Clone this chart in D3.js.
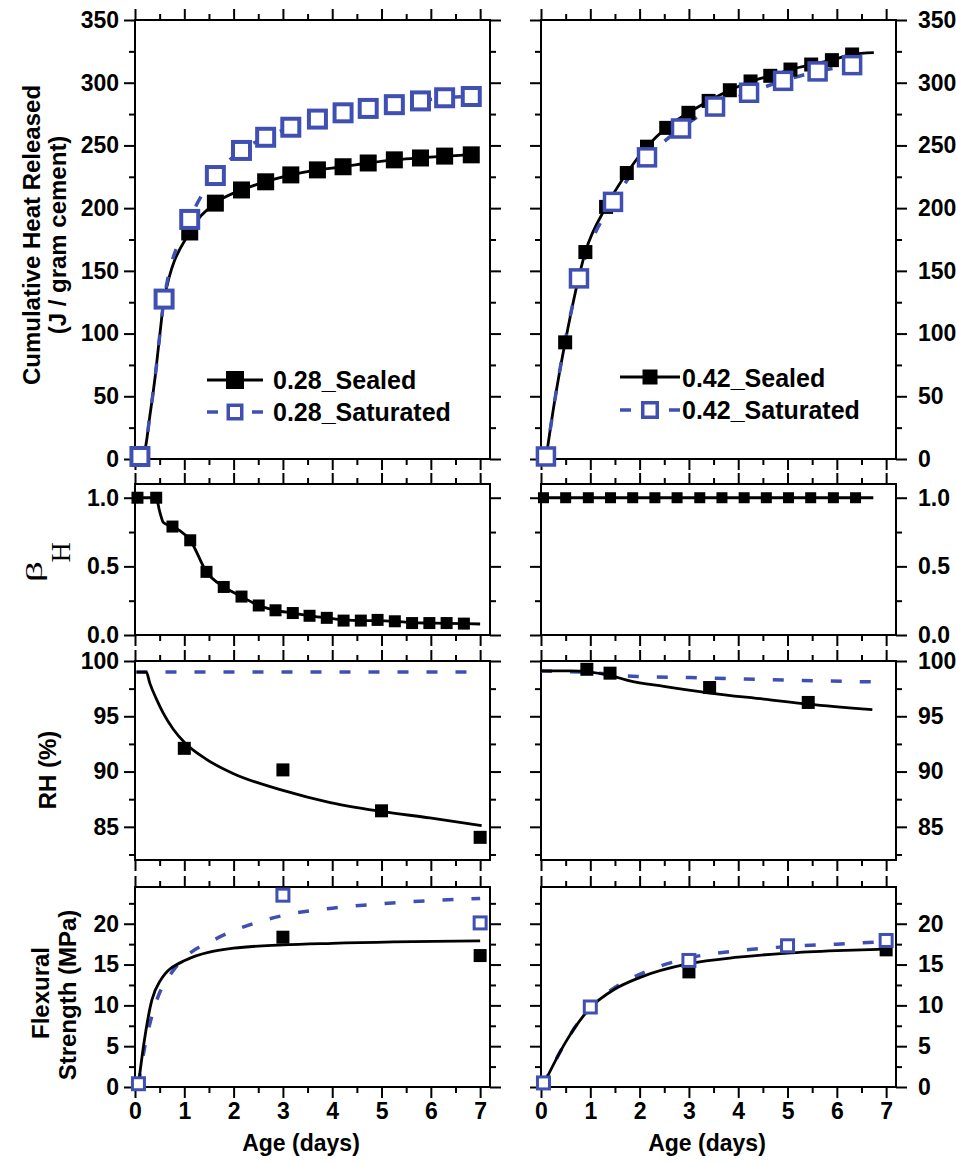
<!DOCTYPE html>
<html>
<head>
<meta charset="utf-8">
<script src="https://cdn.jsdelivr.net/npm/d3@7"></script>
<style>
  body { margin: 0; background: #fff; }
  svg { display: block; }
</style>
</head>
<body>
<svg id="fig" width="956" height="1163"></svg>
<script>
//=================== Data ===================
// [age (days), value]

// cumulative heat, w/c 0.28
var heat028Sealed = [[0.1,2],[0.59,127],[1.11,181],[1.63,204],[2.16,214.5],[2.65,221],[3.16,226.5],
  [3.7,230.5],[4.22,233],[4.73,236],[5.26,238.5],[5.79,240],[6.28,241.5],[6.82,242.5]];
var heat028Saturated = [[0.1,2],[0.59,127.5],[1.11,191],[1.63,226],[2.16,246],[2.65,256.5],[3.16,264.5],
  [3.7,271],[4.22,276],[4.73,279.5],[5.26,282.5],[5.79,285.5],[6.28,288],[6.82,289]];
var heat028Start = [[0.1,0],[0.2,7],[0.3,34],[0.41,66],[0.5,98]];

// cumulative heat, w/c 0.42
var heat042Sealed = [[0.1,2],[0.49,93],[0.9,165],[1.32,201],[1.74,228],[2.15,249],[2.54,264],[2.99,276],
  [3.4,285.5],[3.83,294],[4.25,301],[4.65,305.5],[5.06,310.5],[5.48,314.5],[5.9,318],[6.31,322.5]];
var heat042Saturated = [[0.1,2],[0.77,144],[1.46,205],[2.15,240.5],[2.84,263.5],[3.53,281],[4.22,292],
  [4.91,301.5],[5.61,309],[6.31,314]];
var heat042Start = [[0.1,0],[0.28,47]];
var heat042SealedEnd = [6.75,324];
var heat042SaturatedEnd = [6.72,317];

// beta_H
var beta028 = [[0.05,1.0],[0.43,1.0],[0.76,0.79],[1.12,0.69],[1.45,0.46],[1.8,0.35],[2.16,0.28],[2.51,0.215],
  [2.85,0.18],[3.2,0.16],[3.54,0.14],[3.89,0.125],[4.23,0.105],[4.58,0.105],[4.92,0.11],[5.27,0.1],
  [5.62,0.087],[5.97,0.087],[6.32,0.087],[6.67,0.083]];
var beta028Curve = [[0.05,1.0],[0.43,1.0],[0.5,0.9],[0.575,0.82],[0.76,0.79],[0.91,0.76],[1.12,0.69],[1.45,0.46],
  [1.8,0.35],[2.16,0.28],[2.51,0.215],[2.85,0.18],[3.2,0.16],[3.54,0.14],[3.89,0.125],[4.23,0.11],[4.58,0.105],
  [4.92,0.105],[5.27,0.1],[5.62,0.09],[5.97,0.087],[6.32,0.085],[6.67,0.083],[7.0,0.08]];
var beta042 = [[0.05,1],[0.5,1],[0.96,1],[1.41,1],[1.86,1],[2.31,1],[2.76,1],[3.22,1],[3.67,1],[4.12,1],
  [4.57,1],[5.02,1],[5.47,1],[5.93,1],[6.38,1]];
var beta042Curve = [[0,1],[6.74,1]];

// internal RH (%)
var rh028Sealed = [[1,92.1],[3,90.15],[5,86.45],[7,84.05]];
var rh028SealedCurve = [[0.03,99],[0.23,99],[0.3,98],[0.44,96.5],[0.57,95.3],[0.78,93.8],[1.01,92.6],[1.45,91.1],
  [2.0,89.8],[3.0,88.3],[3.96,87.2],[5.0,86.4],[5.98,85.8],[7.03,85.1]];
var rh028SaturatedCurve = [[0.03,99],[7.03,99]];
var rh042Sealed = [[0.93,99.25],[1.4,98.9],[3.42,97.6],[5.42,96.25]];
var rh042SealedCurve = [[0,99.1],[0.6,99.1],[1.0,99.0],[1.4,98.7],[1.8,98.2],[2.49,97.7],[3.42,97.1],
  [4.52,96.55],[5.42,96.1],[6.72,95.6]];
var rh042SaturatedCurve = [[0,99.1],[1.0,98.95],[1.95,98.6],[3.03,98.5],[4.93,98.28],[6.82,98.1]];

// flexural strength (MPa)
var flex028Sealed = [[0.07,0.4],[3,18.35],[7,16.1]];
var flex028Saturated = [[0.07,0.4],[3,23.5],[7,20.1]];
var flex028SealedCurve = [[0.07,0.3],[0.17,4.9],[0.34,10.6],[0.51,13.0],[1.01,15.5],[2.0,17.0],[3.0,17.4],
  [4.0,17.6],[7.0,17.9]];
var flex028SaturatedCurve = [[0.07,0.3],[0.2,5],[0.44,10.6],[0.78,14.3],[1.0,15.8],[1.66,18.2],[3.0,21.0],
  [4.0,21.9],[5.0,22.45],[7.0,23.1]];
var flex042Sealed = [[0.05,0.5],[3,14.1],[7,16.8]];
var flex042Saturated = [[0.05,0.5],[1,9.8],[3,15.5],[5,17.3],[7,17.95]];
var flex042SealedCurve = [[0.05,0.3],[0.5,5.5],[1.0,9.7],[1.5,12.0],[2.0,13.4],[3.0,15.1],[4.0,15.9],
  [5.0,16.4],[6.0,16.7],[7.0,16.9]];
var flex042SaturatedCurve = [[0.05,0.3],[0.5,5.5],[1.0,9.8],[1.5,12.2],[2.0,13.8],[3.0,15.8],[4.0,16.7],
  [5.0,17.2],[6.0,17.5],[7.0,17.8]];

// legend / axis text
var legend028 = ["0.28_Sealed", "0.28_Saturated"];
var legend042 = ["0.42_Sealed", "0.42_Saturated"];
var xTicks = [0,1,2,3,4,5,6,7];
//===================================================================

var FONT = "'Liberation Sans', Arial, sans-serif";
var SERIF = "'Liberation Serif', 'Times New Roman', serif";
var BLUE = "#4050b2";
var svg = d3.select("#fig");
var colLeft = [135, 541];
var panelW = 355;

// rows: top, height, y-domain, major ticks, minor ticks, format
var rows = {
  heat: { top: 20,  h: 439, dom: [0,350],   maj: d3.range(0,351,50), min: d3.range(25,350,50), fmt: d3.format("d") },
  beta: { top: 484, h: 151, dom: [0,1.1],   maj: [0,0.5,1.0], min: [0.25,0.75], fmt: d3.format(".1f") },
  rh:   { top: 661, h: 199, dom: [82,100],  maj: [85,90,95,100], min: [82.5,87.5,92.5,97.5], fmt: d3.format("d") },
  flex: { top: 887, h: 200, dom: [0,24.5],  maj: [0,5,10,15,20], min: [2.5,7.5,12.5,17.5,22.5], fmt: d3.format("d") }
};

function styleAxis(a) {
  a.select(".domain").remove();
  a.selectAll("line").attr("stroke", "#000").attr("stroke-width", 2);
  a.selectAll("text").attr("font-family", FONT).attr("font-weight", "bold")
    .attr("font-size", 23).attr("fill", "#000");
}

function makePanel(col, row, showBottom) {
  var x0 = colLeft[col];
  var x = d3.scaleLinear().domain([0, 7.2]).range([x0, x0 + panelW]);
  var y = d3.scaleLinear().domain(row.dom).range([row.top + row.h, row.top]);
  var g = svg.append("g");
  var none = function() { return ""; };
  var xMin = d3.range(0.5, 7.2, 1);

  // x axes (bottom, top)
  styleAxis(g.append("g").attr("transform", `translate(0,${row.top + row.h})`)
    .call(d3.axisBottom(x).tickValues(xTicks).tickSize(11).tickPadding(5)
      .tickFormat(showBottom ? d3.format("d") : none)));
  styleAxis(g.append("g").attr("transform", `translate(0,${row.top + row.h})`)
    .call(d3.axisBottom(x).tickValues(xMin).tickSize(6).tickFormat(none)));
  styleAxis(g.append("g").attr("transform", `translate(0,${row.top})`)
    .call(d3.axisTop(x).tickValues(xTicks).tickSize(11).tickFormat(none)));
  styleAxis(g.append("g").attr("transform", `translate(0,${row.top})`)
    .call(d3.axisTop(x).tickValues(xMin).tickSize(6).tickFormat(none)));

  // y axes (left, right)
  styleAxis(g.append("g").attr("transform", `translate(${x0},0)`)
    .call(d3.axisLeft(y).tickValues(row.maj).tickSize(11).tickPadding(5)
      .tickFormat(col === 0 ? row.fmt : none)));
  styleAxis(g.append("g").attr("transform", `translate(${x0},0)`)
    .call(d3.axisLeft(y).tickValues(row.min).tickSize(6).tickFormat(none)));
  styleAxis(g.append("g").attr("transform", `translate(${x0 + panelW},0)`)
    .call(d3.axisRight(y).tickValues(row.maj).tickSize(11).tickPadding(11)
      .tickFormat(col === 1 ? row.fmt : none)));
  styleAxis(g.append("g").attr("transform", `translate(${x0 + panelW},0)`)
    .call(d3.axisRight(y).tickValues(row.min).tickSize(6).tickFormat(none)));

  // frame
  g.append("rect").attr("x", x0).attr("y", row.top).attr("width", panelW).attr("height", row.h)
    .attr("fill", "none").attr("stroke", "#000").attr("stroke-width", 2);

  return { g: g, x: x, y: y };
}

function drawCurve(p, data, dashed) {
  var line = d3.line().x(d => p.x(d[0])).y(d => p.y(d[1])).curve(d3.curveMonotoneX);
  p.g.append("path").datum(data)
    .attr("d", line)
    .attr("fill", "none")
    .attr("stroke", dashed ? BLUE : "#000")
    .attr("stroke-width", dashed ? 3.5 : 2.8)
    .attr("stroke-dasharray", dashed ? "11,18" : null);
}

function drawSquares(p, data, size, open, sw) {
  p.g.append("g").selectAll("rect").data(data).enter().append("rect")
    .attr("x", d => p.x(d[0]) - size / 2)
    .attr("y", d => p.y(d[1]) - size / 2)
    .attr("width", size).attr("height", size)
    .attr("fill", open ? "#fff" : "#000")
    .attr("stroke", open ? BLUE : "none")
    .attr("stroke-width", open ? sw : 0);
}

function drawLegend(lineX, textX, rowsY, base, labels, sqBlack, sqBlue) {
  var g = svg.append("g");
  // sealed row
  g.append("line").attr("x1", lineX[0]).attr("x2", lineX[1]).attr("y1", rowsY[0]).attr("y2", rowsY[0])
    .attr("stroke", "#000").attr("stroke-width", 2.8);
  var cx = (lineX[0] + lineX[1]) / 2;
  g.append("rect").attr("x", cx - sqBlack / 2).attr("y", rowsY[0] - sqBlack / 2)
    .attr("width", sqBlack).attr("height", sqBlack).attr("fill", "#000");
  // saturated row
  var len = lineX[1] - lineX[0];
  g.append("line").attr("x1", lineX[0]).attr("x2", lineX[1]).attr("y1", rowsY[1]).attr("y2", rowsY[1])
    .attr("stroke", BLUE).attr("stroke-width", 3.5)
    .attr("stroke-dasharray", `11,${len - 22},11`);
  g.append("rect").attr("x", cx - sqBlue / 2 + 1.75).attr("y", rowsY[1] - sqBlue / 2 + 1.75)
    .attr("width", sqBlue - 3.5).attr("height", sqBlue - 3.5)
    .attr("fill", "#fff").attr("stroke", BLUE).attr("stroke-width", 3.5);
  labels.forEach(function(t, i) {
    g.append("text").attr("x", textX).attr("y", base[i])
      .attr("font-family", FONT).attr("font-weight", "bold").attr("font-size", 25)
      .text(t);
  });
}

//=================== Panels ===================
// heat, 0.28
var p = makePanel(0, rows.heat, false);
drawCurve(p, heat028Start.concat(heat028Sealed.slice(1)), false);
drawCurve(p, heat028Start.concat(heat028Saturated.slice(1)), true);
drawSquares(p, heat028Sealed, 17, false);
drawSquares(p, heat028Saturated, 17, true, 4);
drawLegend([207, 263], 273, [380, 412], [389, 421], legend028, 18, 17);

// heat, 0.42
p = makePanel(1, rows.heat, false);
drawCurve(p, heat042Start.concat(heat042Sealed.slice(1), [heat042SealedEnd]), false);
drawCurve(p, heat042Start.concat(heat042Saturated.slice(1), [heat042SaturatedEnd]), true);
drawSquares(p, heat042Sealed, 14, false);
drawSquares(p, heat042Saturated, 17, true, 3.5);
drawLegend([620, 680], 682, [377, 410], [387, 419], legend042, 15, 18);

// beta, 0.28
p = makePanel(0, rows.beta, false);
drawCurve(p, beta028Curve, false);
drawSquares(p, beta028, 12, false);

// beta, 0.42
p = makePanel(1, rows.beta, false);
drawCurve(p, beta042Curve, false);
drawSquares(p, beta042, 11, false);

// RH, 0.28
p = makePanel(0, rows.rh, false);
drawCurve(p, rh028SaturatedCurve, true);
drawCurve(p, rh028SealedCurve, false);
drawSquares(p, rh028Sealed, 13, false);

// RH, 0.42
p = makePanel(1, rows.rh, false);
drawCurve(p, rh042SaturatedCurve, true);
drawCurve(p, rh042SealedCurve, false);
drawSquares(p, rh042Sealed, 13, false);

// flexural, 0.28
p = makePanel(0, rows.flex, true);
drawCurve(p, flex028SaturatedCurve, true);
drawCurve(p, flex028SealedCurve, false);
drawSquares(p, flex028Sealed, 13, false);
drawSquares(p, flex028Saturated, 12, true, 3);

// flexural, 0.42
p = makePanel(1, rows.flex, true);
drawCurve(p, flex042SaturatedCurve, true);
drawCurve(p, flex042SealedCurve, false);
drawSquares(p, flex042Sealed, 13, false);
drawSquares(p, flex042Saturated, 12, true, 3);

//=================== Axis titles ===================
function rotLabel(x, y, t, size) {
  svg.append("text")
    .attr("transform", `translate(${x},${y}) rotate(-90)`)
    .attr("text-anchor", "middle").attr("dominant-baseline", "central")
    .attr("font-family", FONT).attr("font-weight", "bold").attr("font-size", size || 24)
    .text(t);
}
rotLabel(31, 235, "Cumulative Heat Released");
rotLabel(57, 235, "(J / gram cement)");
rotLabel(47, 770, "RH (%)");
rotLabel(40, 993, "Flexural");
rotLabel(67, 995, "Strength (MPa)");

// beta_H: wide beta with a lowered H, rotated like the other titles
svg.append("text")
  .attr("transform", "translate(42,571.5) rotate(-90) scale(1.5,0.8)")
  .attr("text-anchor", "middle")
  .attr("font-family", SERIF).attr("font-size", 28)
  .text("β");
svg.append("text")
  .attr("transform", "translate(70,552.5) rotate(-90)")
  .attr("text-anchor", "middle")
  .attr("font-family", SERIF).attr("font-size", 28)
  .text("H");

[301, 707].forEach(function(cx) {
  svg.append("text").attr("x", cx).attr("y", 1151)
    .attr("text-anchor", "middle")
    .attr("font-family", FONT).attr("font-weight", "bold").attr("font-size", 23)
    .text("Age (days)");
});
</script>
</body>
</html>
